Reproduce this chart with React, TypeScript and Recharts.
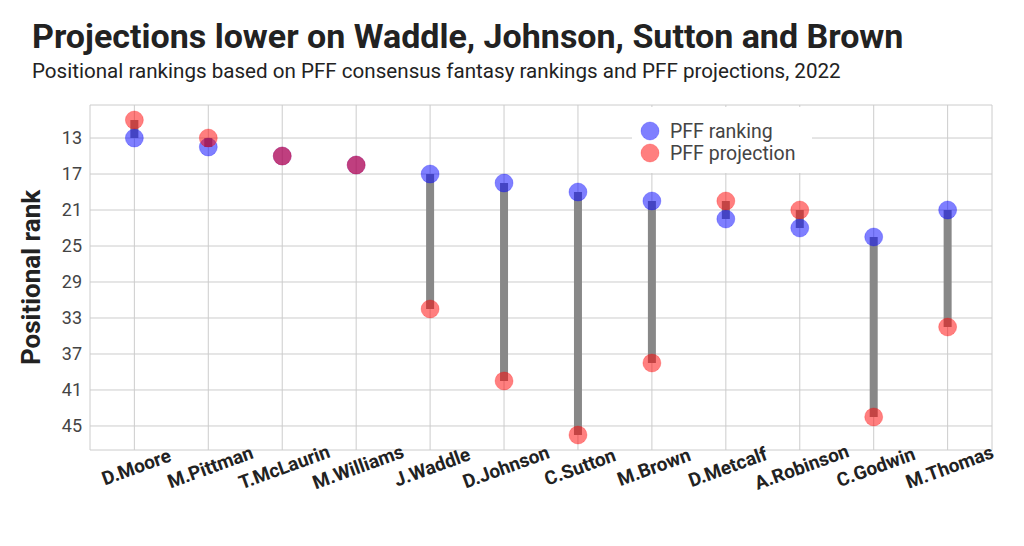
import React from 'react';
import {
  ComposedChart,
  Scatter,
  XAxis,
  YAxis,
  CartesianGrid,
  ReferenceLine,
  Legend,
} from 'recharts';

const players = [
  'D.Moore',
  'M.Pittman',
  'T.McLaurin',
  'M.Williams',
  'J.Waddle',
  'D.Johnson',
  'C.Sutton',
  'M.Brown',
  'D.Metcalf',
  'A.Robinson',
  'C.Godwin',
  'M.Thomas',
];
const pffRanking = [13, 14, 15, 16, 17, 18, 19, 20, 22, 23, 24, 21];
const pffProjection = [11, 13, 15, 16, 32, 40, 46, 38, 20, 21, 44, 34];
const yTicks = [13, 17, 21, 25, 29, 33, 37, 41, 45];
const xTicks = players.map((_, i) => i);

const rankingData = players.map((name, i) => ({ x: i, y: pffRanking[i], name }));
const projectionData = players.map((name, i) => ({ x: i, y: pffProjection[i], name }));

const FONT = 'Roboto, "Noto Sans", sans-serif';

const BlueDot = (props: any) => {
  const { cx, cy } = props;
  if (cx == null || cy == null) return null;
  return (
    <circle cx={cx} cy={cy} r={9} fill="#0000ff" fillOpacity={0.5} stroke="#0000ff" strokeOpacity={0.25} strokeWidth={1} />
  );
};
const RedDot = (props: any) => {
  const { cx, cy } = props;
  if (cx == null || cy == null) return null;
  return (
    <circle cx={cx} cy={cy} r={9} fill="#ff0000" fillOpacity={0.5} stroke="#ff0000" strokeOpacity={0.25} strokeWidth={1} />
  );
};

const XTick = (props: any) => {
  const { x, payload } = props;
  const cy = 467;
  const label = players[payload.value] ?? '';
  return (
    <text
      x={x + 2}
      y={cy}
      textAnchor="middle"
      dominantBaseline="central"
      transform={`rotate(-20, ${x + 2}, ${cy})`}
      fontFamily={FONT}
      fontWeight={700}
      fontSize={19}
      fill="#222"
    >
      {label}
    </text>
  );
};

const LegendContent = () => (
  <div style={{ width: 180, height: 66, background: '#fff' }}>
    <svg width={180} height={66}>
      <circle cx={18} cy={24} r={9} fill="#0000ff" fillOpacity={0.5} stroke="#0000ff" strokeOpacity={0.25} />
      <text x={38} y={24} dominantBaseline="central" fontFamily={FONT} fontSize={19.5} fill="#444">
        PFF ranking
      </text>
      <circle cx={18} cy={46} r={9} fill="#ff0000" fillOpacity={0.5} stroke="#ff0000" strokeOpacity={0.25} />
      <text x={38} y={46} dominantBaseline="central" fontFamily={FONT} fontSize={19.5} fill="#444">
        PFF projection
      </text>
    </svg>
  </div>
);

export default function App() {
  return (
    <div
      style={{
        position: 'absolute',
        left: 0,
        top: 0,
        width: 1024,
        height: 546,
        background: '#fff',
        fontFamily: FONT,
      }}
    >
      <svg width={1024} height={100} style={{ position: 'absolute', left: 0, top: 0 }}>
        <text x={32} y={48} fontFamily={FONT} fontWeight={700} fontSize={34} fill="#222">
          Projections lower on Waddle, Johnson, Sutton and Brown
        </text>
        <text x={32} y={78} fontFamily={FONT} fontSize={20.6} fill="#222">
          Positional rankings based on PFF consensus fantasy rankings and PFF projections, 2022
        </text>
      </svg>
      <div style={{ position: 'absolute', left: 0, top: 0 }}>
        <ComposedChart
          width={1024}
          height={546}
          margin={{ top: 105, right: 32, bottom: 66, left: 40 }}
        >
          <CartesianGrid stroke="#cccccc" strokeWidth={1} />
          <XAxis
            dataKey="x"
            type="number"
            domain={[-0.6, 11.6]}
            ticks={xTicks}
            interval={0}
            axisLine={false}
            tickLine={false}
            height={30}
            tick={<XTick />}
            allowDataOverflow
          />
          <YAxis
            dataKey="y"
            type="number"
            reversed
            domain={[9.33, 47.67]}
            ticks={yTicks}
            interval={0}
            axisLine={false}
            tickLine={false}
            width={50}
            allowDataOverflow
            tick={{ fontFamily: FONT, fontSize: 18, fill: '#444' }}
            label={{
              content: (p: any) => {
                const vb = p.viewBox || {};
                const cy = (vb.y ?? 105) + (vb.height ?? 345) / 2;
                return (
                  <text
                    x={40}
                    y={cy}
                    transform={`rotate(-90, 40, ${cy})`}
                    textAnchor="middle"
                    fontFamily={FONT}
                    fontWeight={700}
                    fontSize={26}
                    fill="#222"
                  >
                    Positional rank
                  </text>
                );
              },
            }}
          />
          {players.map((p, i) => (
            <ReferenceLine
              key={p}
              segment={[
                { x: i, y: pffRanking[i] },
                { x: i, y: pffProjection[i] },
              ]}
              stroke="#888888"
              strokeWidth={8}
              ifOverflow="visible"
            />
          ))}
          <Scatter
            name="PFF ranking"
            data={rankingData}
            dataKey="y"
            shape={<BlueDot />}
            isAnimationActive={false}
          />
          <Scatter
            name="PFF projection"
            data={projectionData}
            dataKey="y"
            shape={<RedDot />}
            isAnimationActive={false}
          />
          <Legend
            layout="vertical"
            align="center"
            verticalAlign="middle"
            content={<LegendContent />}
            wrapperStyle={{ left: 632, top: 107, width: 180, height: 66 }}
          />
        </ComposedChart>
      </div>
    </div>
  );
}
